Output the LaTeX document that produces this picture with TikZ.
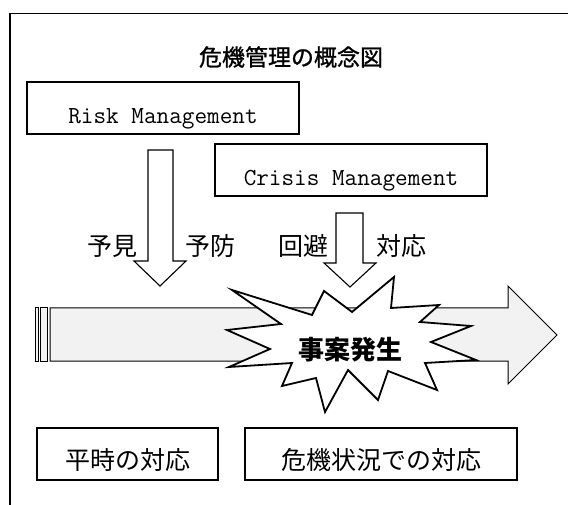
\documentclass[tikz,border=0pt]{standalone}
\usepackage{fontspec}
\newfontfamily\jp{Noto Sans CJK JP}
\newfontfamily\jpmed[FakeBold=1.2]{Noto Sans CJK JP}
\definecolor{timegray}{HTML}{F2F2F2}
\tikzset{
  tbox/.style={draw, rectangle, inner sep=2pt, text height=31pt, text depth=0pt, line width=1.1pt, minimum height=52pt},
  jtext/.style={font=\jp\fontsize{25}{30}\selectfont},
  blkarrow/.style={draw, fill=white, line width=1.1pt},
}
\begin{document}
\begin{tikzpicture}[x=1pt, y=-1pt]
  \useasboundingbox (0,0) rectangle (568,505);
  % frame (cut off at the right and bottom)
  \draw[line width=1.2pt] (568,13.5) -- (10,13.5) -- (10,505);
  \node[font=\jpmed\fontsize{23}{28}\selectfont] (title) at (291,57) {危機管理の概念図};
  \node[tbox, minimum width=272pt, font=\ttfamily\fontsize{24.5}{28}\selectfont] (risk) at (163,108) {Risk Management};
  \node[tbox, minimum width=272pt, font=\ttfamily\fontsize{24.5}{28}\selectfont] (crisis) at (351,170) {Crisis Management};
  % time line
  \filldraw[fill=timegray, line width=1pt] (35,308) rectangle (38,361);
  \filldraw[fill=timegray, line width=1pt] (40,308) rectangle (47,361);
  \filldraw[fill=timegray, line width=1pt] (50,308) -- (508,308) -- (508,286) -- (557,335)
    -- (508,384) -- (508,361) -- (50,361) -- cycle;
  % down arrows
  \draw[blkarrow] (148,150) -- (173,150) -- (173,261) -- (186,261) -- (160,286) -- (134,261) -- (148,261) -- cycle;
  \draw[blkarrow] (336,213) -- (363,213) -- (363,263) -- (376,263) -- (350,287) -- (324,263) -- (336,263) -- cycle;
  \node[jtext] (foresee) at (112,246) {予見};
  \node[jtext] (prevent) at (210,246) {予防};
  \node[jtext] (avoid) at (303,246) {回避};
  \node[jtext] (respond) at (401,246) {対応};
  % explosion
  \draw[line width=1.8pt, fill=white] (232,290) -- (281,324) -- (227,330) -- (270,349) -- (229,367)
    -- (292,363) -- (282,386) -- (316,378) -- (325,412) -- (348,370) -- (378,400) -- (388,371)
    -- (437,390) -- (425,363) -- (476,360) -- (431,342) -- (471,326) -- (420,322) -- (439,305)
    -- (391,308) -- (394,277) -- (352,312) -- (324,291) -- (312,315) -- cycle;
  \node[font=\jp\bfseries\fontsize{26}{30}\selectfont] (event) at (350,350) {事案発生};
  % bottom boxes
  \node[tbox, jtext, minimum width=181pt] (normal) at (127.5,454) {平時の対応};
  \node[tbox, jtext, minimum width=272pt] (crisisresp) at (381,454) {危機状況での対応};
\end{tikzpicture}
\end{document}
